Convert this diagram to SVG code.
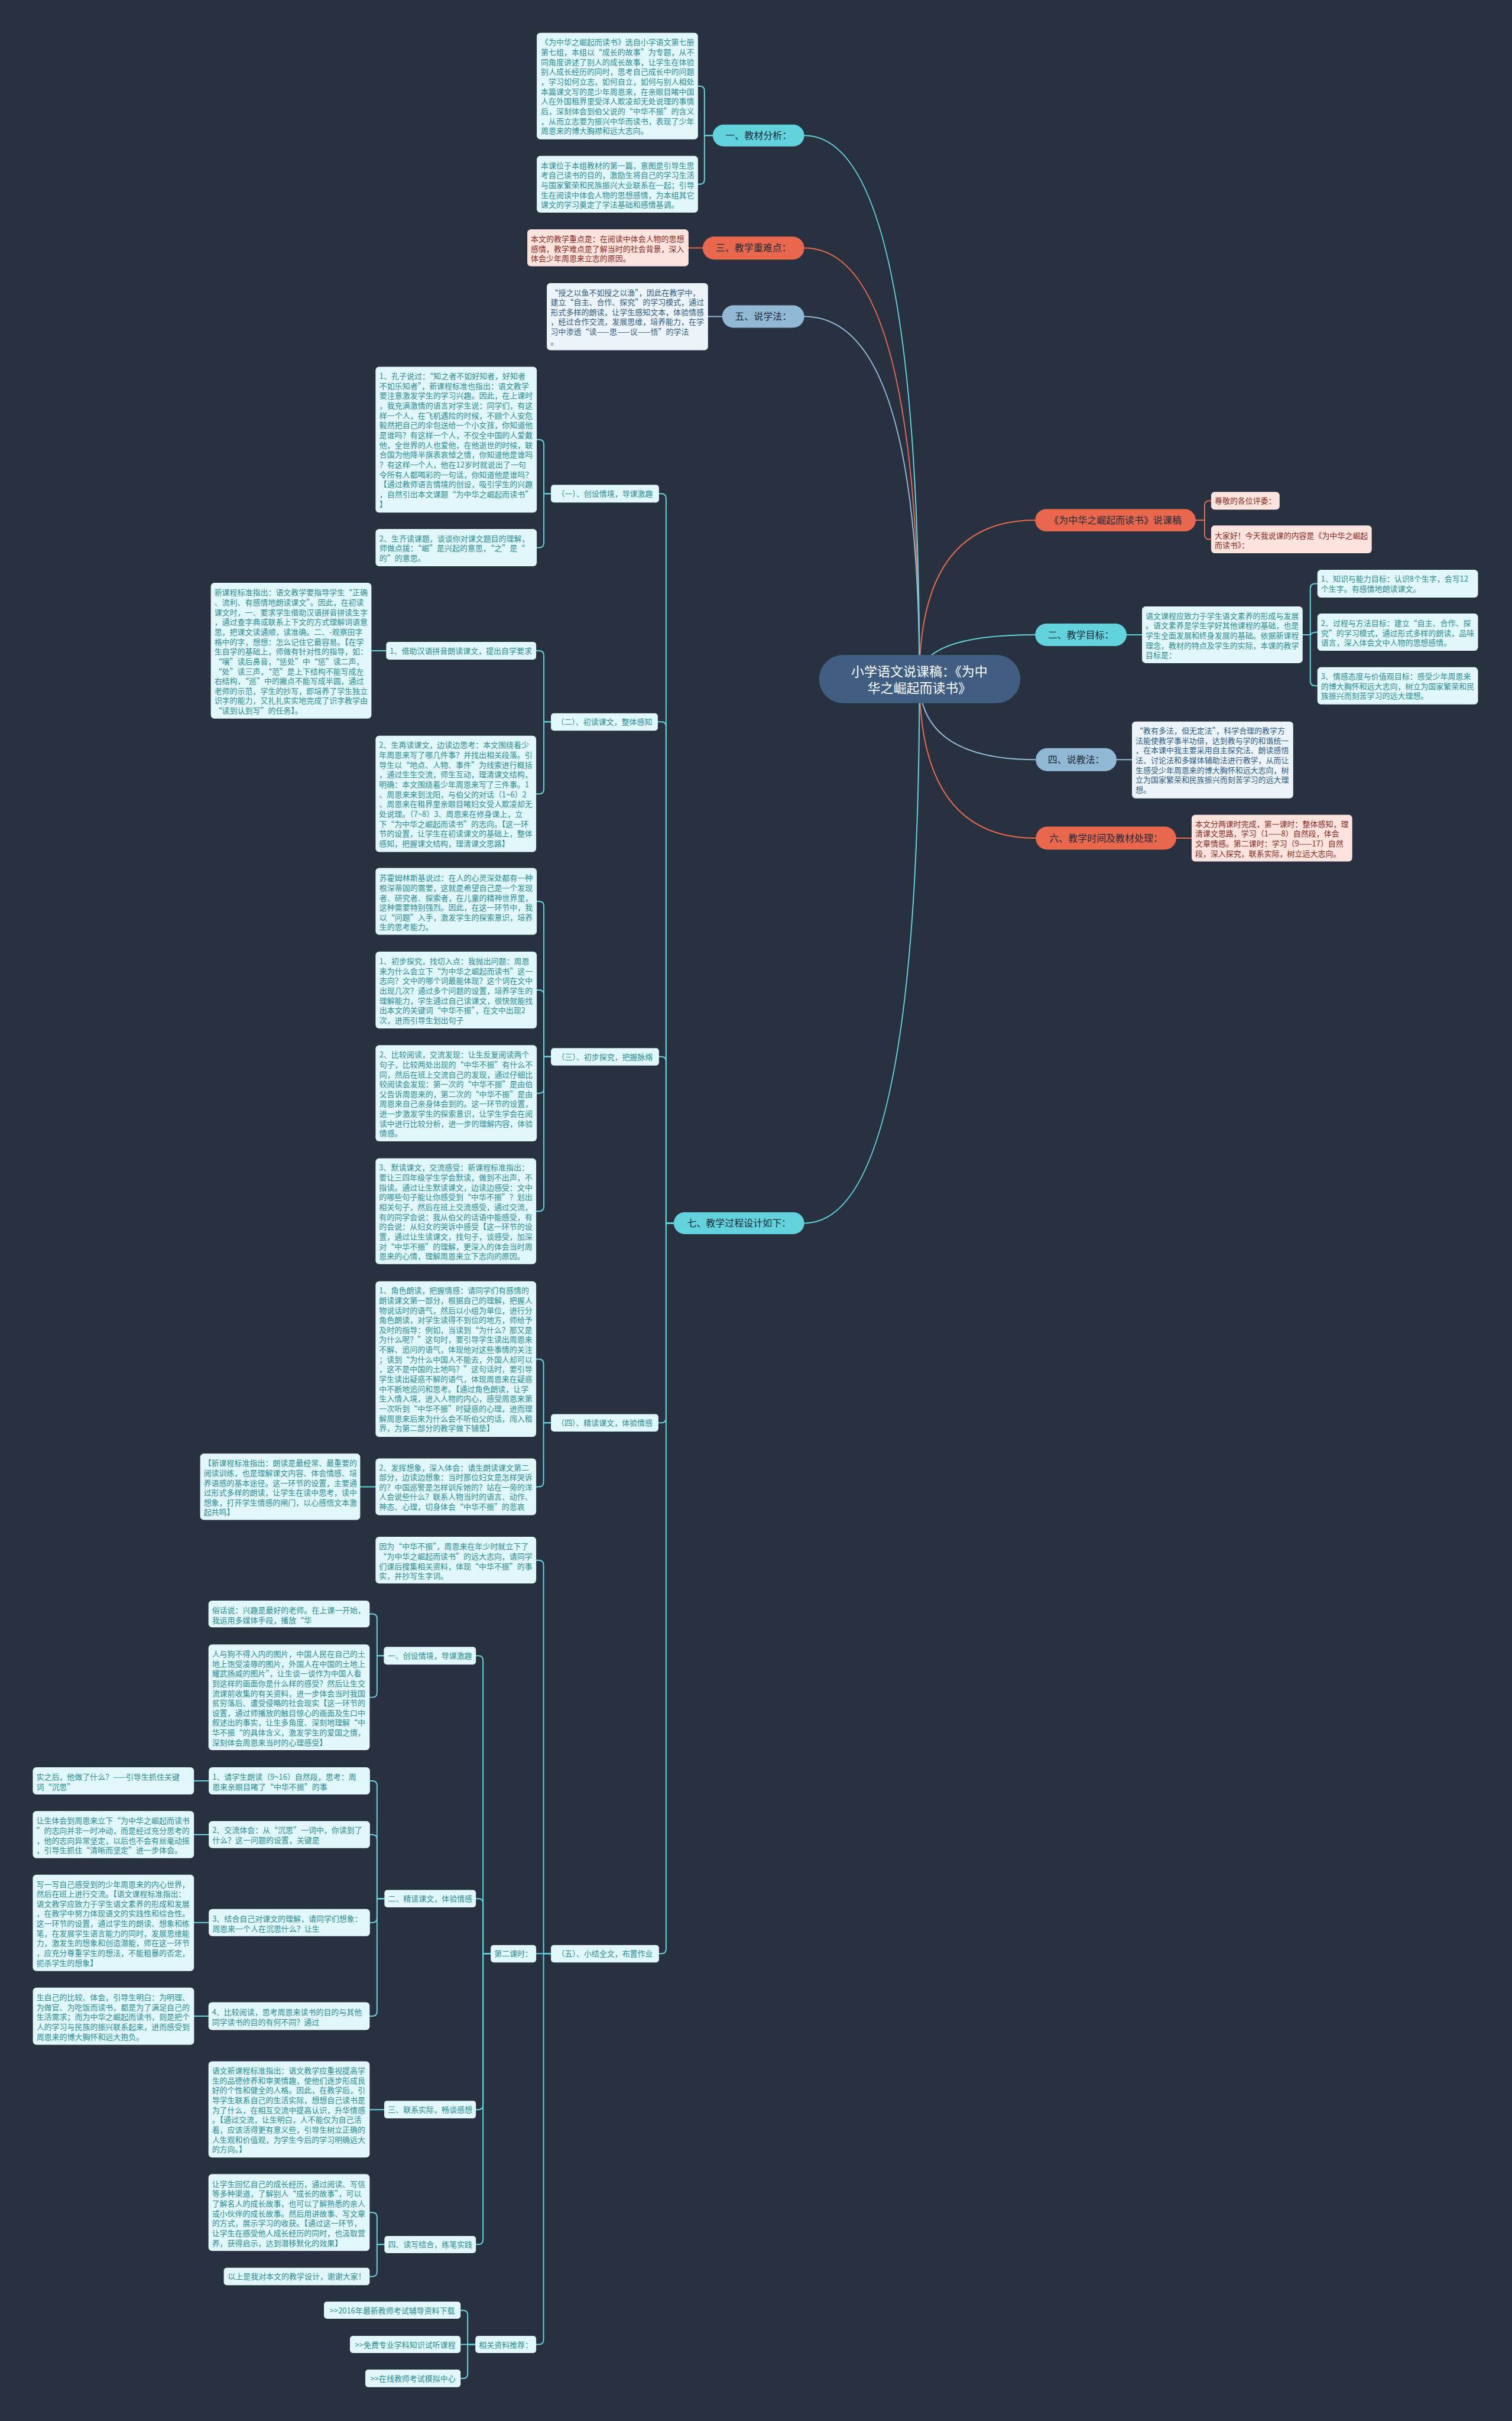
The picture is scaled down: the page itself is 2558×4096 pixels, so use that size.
<svg xmlns="http://www.w3.org/2000/svg" width="2558" height="4096" viewBox="0 0 2558 4096">
<style>
.t{font-family:"Noto Sans CJK SC","Noto Sans",sans-serif;font-size:13px;fill:#2b8e98}
.tp{fill:#8c2b1e}
.tb{fill:#2d5d87}
.lf{fill:#e2f7f9}
.pk{fill:#fde3de}
.bl{fill:#edf4f9}
.c{text-anchor:middle}
.h{font-family:"Noto Sans CJK SC","Noto Sans",sans-serif;font-size:16px;fill:#1d2b3a;text-anchor:middle}
.rt{font-family:"Noto Sans CJK SC","Noto Sans",sans-serif;font-size:22px;fill:#ffffff;text-anchor:middle}
.k{fill:none;stroke-width:2;stroke-linecap:round}
.kc{stroke:#62d2dc}
.ko{stroke:#e9674d}
.ks{stroke:#91b8d4}
</style>
<rect x="0" y="0" width="2558" height="4096" fill="#28313f"/>
<g transform="scale(0.999)">
<g id="connectors">
<g class="k ko">
<path d="M1557 1150 Q1557 881 1753 881"/>
<path d="M1557 1150 Q1557 1419.5 1754 1419.5"/>
<path d="M1557 1150 Q1557 420 1362 420"/>
<path d="M1190 420 H1166"/>
<path d="M1992 1419.5 H2018"/>
<path d="M2025 881 H2040 V856 Q2040 848 2048 848 H2051"/>
<path d="M2025 881 H2040 V905.5 Q2040 913.5 2048 913.5 H2051"/>
</g>
<g class="k ks">
<path d="M1557 1150 Q1557 1286.5 1754 1286.5"/>
<path d="M1557 1150 Q1557 536 1362 536"/>
<path d="M1223 536 H1199"/>
<path d="M1891 1286.5 H1917"/>
</g>
<g class="k kc">
<path d="M1557 1150 Q1557 1075 1753 1075"/>
<path d="M1557 1150 Q1557 229.5 1362 229.5"/>
<path d="M1557 1150 Q1557 2071.5 1362 2071.5"/>
<path d="M1207 229.5 H1193 V154 Q1193 146 1185 146 H1182"/>
<path d="M1207 229.5 H1193 V304 Q1193 312 1185 312 H1182"/>
<path d="M1908 1075 H1934"/>
<path d="M2206 1075 H2219 V996.5 Q2219 988.5 2227 988.5 H2231"/>
<path d="M2206 1075 H2219 Q2222 1070.5 2231 1070.5"/>
<path d="M2206 1075 H2219 V1153.5 Q2219 1161.5 2227 1161.5 H2231"/>
<path d="M1141 2071.5 H1128 V844 Q1128 836 1120 836 H1116"/>
<path d="M1141 2071.5 H1128 V1230.5 Q1128 1222.5 1120 1222.5 H1114"/>
<path d="M1141 2071.5 H1128 V1797.5 Q1128 1789.5 1120 1789.5 H1116"/>
<path d="M1141 2071.5 H1128 V2401.6 Q1128 2409.6 1120 2409.6 H1115"/>
<path d="M1141 2071.5 H1128 V3300.5 Q1128 3308.5 1120 3308.5 H1116"/>
<path d="M933 836 H921 V752.5 Q921 744.5 913 744.5 H909"/>
<path d="M933 836 H921 V919.5 Q921 927.5 913 927.5 H909"/>
<path d="M933 1222.5 H921 V1110 Q921 1102 913 1102 H908"/>
<path d="M933 1222.5 H921 V1336.5 Q921 1344.5 913 1344.5 H908"/>
<path d="M654 1102 H629"/>
<path d="M933 1789.5 H921 V1534.5 Q921 1526.5 913 1526.5 H909"/>
<path d="M933 1789.5 H921 V1684.7 Q921 1676.7 913 1676.7 H909"/>
<path d="M933 1789.5 H921 V1843.5 Q921 1851.5 913 1851.5 H909"/>
<path d="M933 1789.5 H921 V2043.3 Q921 2051.3 913 2051.3 H908"/>
<path d="M933 2409.6 H920.5 V2309.7 Q920.5 2301.7 912.5 2301.7 H908"/>
<path d="M933 2409.6 H920.5 V2510 Q920.5 2518 912.5 2518 H908"/>
<path d="M636 2518 H610"/>
<path d="M933 3308.5 H920.5 V2650.3 Q920.5 2642.3 912.5 2642.3 H908"/>
<path d="M933 3308.5 H908"/>
<path d="M933 3308.5 H920.5 V3962.5 Q920.5 3970.5 912.5 3970.5 H908"/>
<path d="M831 3308.5 H818 V2812 Q818 2804 810 2804 H806"/>
<path d="M831 3308.5 H818 V3223.5 Q818 3215.5 810 3215.5 H806"/>
<path d="M831 3308.5 H818 V3564.7 Q818 3572.7 810 3572.7 H806"/>
<path d="M831 3308.5 H818 V3793 Q818 3801 810 3801 H806"/>
<path d="M650 2804 H638.5 V2741.3 Q638.5 2733.3 630.5 2733.3 H626"/>
<path d="M650 2804 H638.5 V2866.5 Q638.5 2874.5 630.5 2874.5 H626"/>
<path d="M651 3215.5 H638.5 V3024 Q638.5 3016 630.5 3016 H626.5"/>
<path d="M651 3215.5 H638.5 V3115 Q638.5 3107 630.5 3107 H626.5"/>
<path d="M651 3215.5 H638.5 V3248 Q638.5 3256 630.5 3256 H626.5"/>
<path d="M651 3215.5 H638.5 V3406.5 Q638.5 3414.5 630.5 3414.5 H626"/>
<path d="M353.5 3016 H328.5"/>
<path d="M353.5 3107 H328.5"/>
<path d="M353.5 3256 H328.5"/>
<path d="M353 3414.5 H328.7"/>
<path d="M650.6 3572.7 H626"/>
<path d="M651 3801 H638.5 V3755 Q638.5 3747 630.5 3747 H626"/>
<path d="M651 3801 H638.5 V3847.3 Q638.5 3855.3 630.5 3855.3 H626"/>
<path d="M805 3970.5 H792 V3920.7 Q792 3912.7 784 3912.7 H780"/>
<path d="M805 3970.5 H780"/>
<path d="M805 3970.5 H792 V4020 Q792 4028 784 4028 H780"/>
</g>
</g>

<g id="root"><rect x="1387" y="1109" width="341" height="82" rx="41" fill="#405e82"/><text class="rt"><tspan x="1557" y="1145">小学语文说课稿：《为中</tspan><tspan x="1557" y="1173.4">华之崛起而读书》</tspan></text></g>

<g id="n1"><rect x="1207" y="211" width="155" height="37" rx="18.5" fill="#62d2dc"/><text class="h" x="1284.5" y="235.3">一、教材分析：</text></g>
<g id="n3"><rect x="1190" y="400.7" width="172" height="39" rx="19.5" fill="#e9674d"/><text class="h" x="1276" y="425.8">三、教学重难点：</text></g>
<g id="n5"><rect x="1223" y="517" width="139" height="38" rx="19" fill="#91b8d4"/><text class="h" x="1292.5" y="541.8">五、说学法：</text></g>
<g id="n7"><rect x="1141" y="2053" width="221" height="37" rx="18.5" fill="#62d2dc"/><text class="h" x="1251.5" y="2077.3">七、教学过程设计如下：</text></g>
<g id="nk"><rect x="1753" y="862" width="272" height="38" rx="19" fill="#e9674d"/><text class="h" x="1889" y="886.8">《为中华之崛起而读书》说课稿</text></g>
<g id="n2"><rect x="1753" y="1056" width="155" height="38" rx="19" fill="#62d2dc"/><text class="h" x="1830.5" y="1080.8">二、教学目标：</text></g>
<g id="n4"><rect x="1754" y="1267" width="137" height="39" rx="19.5" fill="#91b8d4"/><text class="h" x="1822.5" y="1292.3">四、说教法：</text></g>
<g id="n6"><rect x="1754" y="1400" width="238" height="39" rx="19.5" fill="#e9674d"/><text class="h" x="1873" y="1425.3">六、教学时间及教材处理：</text></g>

<g id="b1"><rect class="lf" x="909" y="55.5" width="273" height="180.5" rx="6"/><text class="t"><tspan x="916" y="76.4">《为中华之崛起而读书》选自小学语文第七册</tspan><tspan x="916" dy="16.67">第七组，本组以“成长的故事”为专题，从不</tspan><tspan x="916" dy="16.67">同角度讲述了别人的成长故事，让学生在体验</tspan><tspan x="916" dy="16.67">别人成长经历的同时，思考自己成长中的问题</tspan><tspan x="916" dy="16.67">，学习如何立志，如何自立，如何与别人相处</tspan><tspan x="916" dy="16.67">本篇课文写的是少年周恩来，在亲眼目睹中国</tspan><tspan x="916" dy="16.67">人在外国租界里受洋人欺凌却无处说理的事情</tspan><tspan x="916" dy="16.67">后，深刻体会到伯父说的“中华不振”的含义</tspan><tspan x="916" dy="16.67">，从而立志要为振兴中华而读书，表现了少年</tspan><tspan x="916" dy="16.67">周恩来的博大胸襟和远大志向。</tspan></text></g>
<g id="b2"><rect class="lf" x="909" y="264" width="273" height="96" rx="6"/><text class="t"><tspan x="916" y="285">本课位于本组教材的第一篇，意图是引导生思</tspan><tspan x="916" dy="16.67">考自己读书的目的，激励生将自己的学习生活</tspan><tspan x="916" dy="16.67">与国家繁荣和民族振兴大业联系在一起；引导</tspan><tspan x="916" dy="16.67">生在阅读中体会人物的思想感情，为本组其它</tspan><tspan x="916" dy="16.67">课文的学习奠定了学法基础和感情基调。</tspan></text></g>
<g id="b3"><rect class="pk" x="893" y="388.5" width="273" height="62.5" rx="6"/><text class="t tp"><tspan x="899" y="409.4">本文的教学重点是：在阅读中体会人物的思想</tspan><tspan x="899" dy="16.67">感情，教学难点是了解当时的社会背景，深入</tspan><tspan x="899" dy="16.67">体会少年周恩来立志的原因。</tspan></text></g>
<g id="b5"><rect class="bl" x="926" y="479.5" width="273" height="113.5" rx="6"/><text class="t tb"><tspan x="932.5" y="500">“授之以鱼不如授之以渔”，因此在教学中，</tspan><tspan x="932.5" dy="16.67">建立“自主、合作、探究”的学习模式，通过</tspan><tspan x="932.5" dy="16.67">形式多样的朗读，让学生感知文本，体验情感</tspan><tspan x="932.5" dy="16.67">，经过合作交流，发展思维，培养能力，在学</tspan><tspan x="932.5" dy="16.67">习中渗透“读——思——议——悟”的学法</tspan><tspan x="932.5" dy="16.67">。</tspan></text></g>

<g id="bk1"><rect class="pk" x="2051" y="833" width="116" height="30" rx="6"/><text class="t tp" x="2057" y="853">尊敬的各位评委：</text></g>
<g id="bk2"><rect class="pk" x="2051" y="890" width="272" height="47" rx="6"/><text class="t tp"><tspan x="2057" y="911.7">大家好！今天我说课的内容是《为中华之崛起</tspan><tspan x="2057" dy="16.67">而读书》：</tspan></text></g>
<g id="b2a"><rect class="lf" x="1934" y="1027" width="272" height="96" rx="6"/><text class="t"><tspan x="1940" y="1047.7">语文课程应致力于学生语文素养的形成与发展</tspan><tspan x="1940" dy="16.67">。语文素养是学生学好其他课程的基础，也是</tspan><tspan x="1940" dy="16.67">学生全面发展和终身发展的基础。依据新课程</tspan><tspan x="1940" dy="16.67">理念，教材的特点及学生的实际，本课的教学</tspan><tspan x="1940" dy="16.67">目标是：</tspan></text></g>
<g id="g1"><rect class="lf" x="2231" y="965" width="272" height="47" rx="6"/><text class="t"><tspan x="2237" y="985">1、知识与能力目标：认识8个生字，会写12</tspan><tspan x="2237" dy="16.67">个生字。有感情地朗读课文。</tspan></text></g>
<g id="g2"><rect class="lf" x="2231" y="1039" width="272" height="63" rx="6"/><text class="t"><tspan x="2237" y="1060">2、过程与方法目标：建立“自主、合作、探</tspan><tspan x="2237" dy="16.67">究”的学习模式，通过形式多样的朗读，品味</tspan><tspan x="2237" dy="16.67">语言，深入体会文中人物的思想感情。</tspan></text></g>
<g id="g3"><rect class="lf" x="2231" y="1130" width="272" height="63" rx="6"/><text class="t"><tspan x="2237" y="1150">3、情感态度与价值观目标：感受少年周恩来</tspan><tspan x="2237" dy="16.67">的博大胸怀和远大志向，树立为国家繁荣和民</tspan><tspan x="2237" dy="16.67">族振兴而刻苦学习的远大理想。</tspan></text></g>
<g id="b4a"><rect class="bl" x="1917" y="1222" width="273" height="130" rx="6"/><text class="t tb"><tspan x="1923" y="1242.3">“教有多法，但无定法”，科学合理的教学方</tspan><tspan x="1923" dy="16.67">法能使教学事半功倍，达到教与学的和谐统一</tspan><tspan x="1923" dy="16.67">，在本课中我主要采用自主探究法、朗读感悟</tspan><tspan x="1923" dy="16.67">法、讨论法和多媒体辅助法进行教学，从而让</tspan><tspan x="1923" dy="16.67">生感受少年周恩来的博大胸怀和远大志向，树</tspan><tspan x="1923" dy="16.67">立为国家繁荣和民族振兴而刻苦学习的远大理</tspan><tspan x="1923" dy="16.67">想。</tspan></text></g>
<g id="b6a"><rect class="pk" x="2018" y="1380" width="272" height="79" rx="6"/><text class="t tp"><tspan x="2024" y="1400">本文分两课时完成，第一课时：整体感知，理</tspan><tspan x="2024" dy="16.67">清课文思路，学习（1——8）自然段，体会</tspan><tspan x="2024" dy="16.67">文章情感。第二课时：学习（9——17）自然</tspan><tspan x="2024" dy="16.67">段，深入探究，联系实际，树立远大志向。</tspan></text></g>

<g id="s1"><rect class="lf" x="933" y="821" width="183" height="30" rx="5"/><text class="t c" x="1024.5" y="841">（一）、创设情境，导课激趣</text></g>
<g id="l1a"><rect class="lf" x="636" y="621" width="273" height="247" rx="6"/><text class="t"><tspan x="642.5" y="641.7">1、孔子说过：“知之者不如好知者，好知者</tspan><tspan x="642.5" dy="16.67">不如乐知者”，新课程标准也指出：语文教学</tspan><tspan x="642.5" dy="16.67">要注意激发学生的学习兴趣。因此，在上课时</tspan><tspan x="642.5" dy="16.67">，我充满激情的语言对学生说：同学们，有这</tspan><tspan x="642.5" dy="16.67">样一个人，在飞机遇险的时候，不顾个人安危</tspan><tspan x="642.5" dy="16.67">毅然把自己的伞包送给一个小女孩，你知道他</tspan><tspan x="642.5" dy="16.67">是谁吗？有这样一个人，不仅全中国的人爱戴</tspan><tspan x="642.5" dy="16.67">他，全世界的人也爱他，在他逝世的时候，联</tspan><tspan x="642.5" dy="16.67">合国为他降半旗表哀悼之情，你知道他是谁吗</tspan><tspan x="642.5" dy="16.67">？有这样一个人，他在12岁时就说出了一句</tspan><tspan x="642.5" dy="16.67">令所有人都喝彩的一句话，你知道他是谁吗？</tspan><tspan x="642.5" dy="16.67">【通过教师语言情境的创设，吸引学生的兴趣</tspan><tspan x="642.5" dy="16.67">，自然引出本文课题“为中华之崛起而读书”</tspan><tspan x="642.5" dy="16.67">】</tspan></text></g>
<g id="l1b"><rect class="lf" x="636" y="896" width="273" height="63" rx="6"/><text class="t"><tspan x="642.5" y="916.7">2、生齐读课题，谈谈你对课文题目的理解，</tspan><tspan x="642.5" dy="16.67">师做点拨：“崛”是兴起的意思，“之”是“</tspan><tspan x="642.5" dy="16.67">的”的意思。</tspan></text></g>

<g id="s2"><rect class="lf" x="933" y="1208" width="181" height="29.5" rx="5"/><text class="t c" x="1023.5" y="1227.5">（二）、初读课文，整体感知</text></g>
<g id="l2a"><rect class="lf" x="357" y="987" width="272" height="230" rx="6"/><text class="t"><tspan x="363" y="1008.3">新课程标准指出：语文教学要指导学生“正确</tspan><tspan x="363" dy="16.67">、流利、有感情地朗读课文”。因此，在初读</tspan><tspan x="363" dy="16.67">课文时，一、要求学生借助汉语拼音拼读生字</tspan><tspan x="363" dy="16.67">，通过查字典或联系上下文的方式理解词语意</tspan><tspan x="363" dy="16.67">思，把课文读通顺，读准确。二、-观察田字</tspan><tspan x="363" dy="16.67">格中的字，想想：怎么记住它最容易。【在学</tspan><tspan x="363" dy="16.67">生自学的基础上，师做有针对性的指导，如：</tspan><tspan x="363" dy="16.67">“嚷”读后鼻音，“惩处”中“惩”读二声，</tspan><tspan x="363" dy="16.67">“处”读三声，“范”是上下结构不能写成左</tspan><tspan x="363" dy="16.67">右结构，“巡”中的撇点不能写成半圆，通过</tspan><tspan x="363" dy="16.67">老师的示范，学生的抄写，即培养了学生独立</tspan><tspan x="363" dy="16.67">识字的能力，又扎扎实实地完成了识字教学由</tspan><tspan x="363" dy="16.67">“读到认到写”的任务】。</tspan></text></g>
<g id="l2b"><rect class="lf" x="654" y="1087" width="254" height="30" rx="5"/><text class="t" x="660" y="1107">1、借助汉语拼音朗读课文，提出自学要求</text></g>
<g id="l2c"><rect class="lf" x="636" y="1246" width="272" height="197" rx="6"/><text class="t"><tspan x="642" y="1266.7">2、生再读课文，边读边思考：本文围绕着少</tspan><tspan x="642" dy="16.67">年周恩来写了哪几件事？并找出相关段落。引</tspan><tspan x="642" dy="16.67">导生以“地点、人物、事件”为线索进行概括</tspan><tspan x="642" dy="16.67">，通过生生交流，师生互动，理清课文结构，</tspan><tspan x="642" dy="16.67">明确：本文围绕着少年周恩来写了三件事。1</tspan><tspan x="642" dy="16.67">、周恩来来到沈阳，与伯父的对话（1~6）2</tspan><tspan x="642" dy="16.67">、周恩来在租界里亲眼目睹妇女受人欺凌却无</tspan><tspan x="642" dy="16.67">处说理。（7~8）3、周恩来在修身课上，立</tspan><tspan x="642" dy="16.67">下“为中华之崛起而读书”的志向。【这一环</tspan><tspan x="642" dy="16.67">节的设置，让学生在初读课文的基础上，整体</tspan><tspan x="642" dy="16.67">感知，把握课文结构，理清课文思路】</tspan></text></g>

<g id="s3"><rect class="lf" x="933" y="1775" width="183" height="29.5" rx="5"/><text class="t c" x="1024.5" y="1794.5">（三）、初步探究，把握脉络</text></g>
<g id="l3a"><rect class="lf" x="636" y="1470" width="273" height="113" rx="6"/><text class="t"><tspan x="642.5" y="1491.7">苏霍姆林斯基说过：在人的心灵深处都有一种</tspan><tspan x="642.5" dy="16.67">根深蒂固的需要，这就是希望自己是一个发现</tspan><tspan x="642.5" dy="16.67">者、研究者、探索者，在儿童的精神世界里，</tspan><tspan x="642.5" dy="16.67">这种需要特别强烈。因此，在这一环节中，我</tspan><tspan x="642.5" dy="16.67">以“问题”入手，激发学生的探索意识，培养</tspan><tspan x="642.5" dy="16.67">生的思考能力。</tspan></text></g>
<g id="l3b"><rect class="lf" x="636" y="1611.7" width="273" height="130" rx="6"/><text class="t"><tspan x="642.5" y="1632.7">1、初步探究，找切入点：我抛出问题：周恩</tspan><tspan x="642.5" dy="16.67">来为什么会立下“为中华之崛起而读书”这一</tspan><tspan x="642.5" dy="16.67">志向？文中的哪个词最能体现？这个词在文中</tspan><tspan x="642.5" dy="16.67">出现几次？通过多个问题的设置，培养学生的</tspan><tspan x="642.5" dy="16.67">理解能力，学生通过自己读课文，很快就能找</tspan><tspan x="642.5" dy="16.67">出本文的关键词“中华不振”，在文中出现2</tspan><tspan x="642.5" dy="16.67">次，进而引导生划出句子</tspan></text></g>
<g id="l3c"><rect class="lf" x="636" y="1770" width="273" height="163" rx="6"/><text class="t"><tspan x="642.5" y="1791">2、比较阅读，交流发现：让生反复阅读两个</tspan><tspan x="642.5" dy="16.67">句子，比较两处出现的“中华不振”有什么不</tspan><tspan x="642.5" dy="16.67">同，然后在班上交流自己的发现，通过仔细比</tspan><tspan x="642.5" dy="16.67">较阅读会发现：第一次的“中华不振”是由伯</tspan><tspan x="642.5" dy="16.67">父告诉周恩来的，第二次的“中华不振”是由</tspan><tspan x="642.5" dy="16.67">周恩来自己亲身体会到的。这一环节的设置，</tspan><tspan x="642.5" dy="16.67">进一步激发学生的探索意识，让学生学会在阅</tspan><tspan x="642.5" dy="16.67">读中进行比较分析，进一步的理解内容，体验</tspan><tspan x="642.5" dy="16.67">情感。</tspan></text></g>
<g id="l3d"><rect class="lf" x="636" y="1961.6" width="272" height="179.4" rx="6"/><text class="t"><tspan x="642" y="1982.3">3、默读课文，交流感受：新课程标准指出：</tspan><tspan x="642" dy="16.67">要让三四年级学生学会默读，做到不出声，不</tspan><tspan x="642" dy="16.67">指读。通过让生默读课文，边读边感受：文中</tspan><tspan x="642" dy="16.67">的哪些句子能让你感受到“中华不振”？划出</tspan><tspan x="642" dy="16.67">相关句子，然后在班上交流感受，通过交流，</tspan><tspan x="642" dy="16.67">有的同学会说：我从伯父的话语中能感受，有</tspan><tspan x="642" dy="16.67">的会说：从妇女的哭诉中感受【这一环节的设</tspan><tspan x="642" dy="16.67">置，通过让生读课文，找句子，谈感受，加深</tspan><tspan x="642" dy="16.67">对“中华不振”的理解，更深入的体会当时周</tspan><tspan x="642" dy="16.67">恩来的心情，理解周恩来立下志向的原因。</tspan></text></g>

<g id="s4"><rect class="lf" x="933" y="2395" width="182" height="29.5" rx="5"/><text class="t c" x="1024" y="2414.6">（四）、精读课文，体验情感</text></g>
<g id="l4a"><rect class="lf" x="636" y="2170" width="272" height="263.4" rx="6"/><text class="t"><tspan x="642" y="2190.4">1、角色朗读，把握情感：请同学们有感情的</tspan><tspan x="642" dy="16.67">朗读课文第一部分，根据自己的理解，把握人</tspan><tspan x="642" dy="16.67">物说话时的语气，然后以小组为单位，进行分</tspan><tspan x="642" dy="16.67">角色朗读，对学生读得不到位的地方，师给予</tspan><tspan x="642" dy="16.67">及时的指导：例如，当读到“为什么？那又是</tspan><tspan x="642" dy="16.67">为什么呢？”这句时，要引导学生读出周恩来</tspan><tspan x="642" dy="16.67">不解、追问的语气，体现他对这些事情的关注</tspan><tspan x="642" dy="16.67">；读到“为什么中国人不能去，外国人却可以</tspan><tspan x="642" dy="16.67">，这不是中国的土地吗？”这句话时，要引导</tspan><tspan x="642" dy="16.67">学生读出疑惑不解的语气，体现周恩来在疑惑</tspan><tspan x="642" dy="16.67">中不断地追问和思考。【通过角色朗读，让学</tspan><tspan x="642" dy="16.67">生入情入境，进入人物的内心，感受周恩来第</tspan><tspan x="642" dy="16.67">一次听到“中华不振”时疑惑的心理，进而理</tspan><tspan x="642" dy="16.67">解周恩来后来为什么会不听伯父的话，闯入租</tspan><tspan x="642" dy="16.67">界，为第二部分的教学做下铺垫】</tspan></text></g>
<g id="l4b"><rect class="lf" x="636" y="2470" width="272" height="96" rx="6"/><text class="t"><tspan x="642" y="2490">2、发挥想象，深入体会：请生朗读课文第二</tspan><tspan x="642" dy="16.67">部分，边读边想象：当时那位妇女是怎样哭诉</tspan><tspan x="642" dy="16.67">的？中国巡警是怎样训斥她的？站在一旁的洋</tspan><tspan x="642" dy="16.67">人会说些什么？联系人物当时的语言、动作、</tspan><tspan x="642" dy="16.67">神态、心理，切身体会“中华不振”的悲哀</tspan></text></g>
<g id="l4c"><rect class="lf" x="339" y="2461.6" width="271" height="112.4" rx="6"/><text class="t"><tspan x="345" y="2482.7">【新课程标准指出：朗读是最经常、最重要的</tspan><tspan x="345" dy="16.67">阅读训练，也是理解课文内容、体会情感、培</tspan><tspan x="345" dy="16.67">养语感的基本途径。这一环节的设置，主要通</tspan><tspan x="345" dy="16.67">过形式多样的朗读，让学生在读中思考，读中</tspan><tspan x="345" dy="16.67">想象，打开学生情感的闸门，以心感悟文本激</tspan><tspan x="345" dy="16.67">起共鸣】</tspan></text></g>

<g id="s5"><rect class="lf" x="933" y="3294" width="183" height="29.5" rx="5"/><text class="t c" x="1024.5" y="3313.5">（五）、小结全文，布置作业</text></g>
<g id="l5a"><rect class="lf" x="636" y="2602.7" width="272" height="79" rx="6"/><text class="t"><tspan x="642" y="2624">因为“中华不振”，周恩来在年少时就立下了</tspan><tspan x="642" dy="16.67">“为中华之崛起而读书”的远大志向，请同学</tspan><tspan x="642" dy="16.67">们课后搜集相关资料，体现“中华不振”的事</tspan><tspan x="642" dy="16.67">实，并抄写生字词。</tspan></text></g>
<g id="k2"><rect class="lf" x="831" y="3294" width="77" height="29.5" rx="5"/><text class="t c" x="869.5" y="3313.5">第二课时：</text></g>

<g id="p1"><rect class="lf" x="650" y="2789" width="156" height="30" rx="5"/><text class="t c" x="728" y="2809">一、创设情境，导课激趣</text></g>
<g id="p1a"><rect class="lf" x="353" y="2710.7" width="273" height="45.3" rx="6"/><text class="t"><tspan x="359" y="2731.7">俗话说：兴趣是最好的老师。在上课一开始，</tspan><tspan x="359" dy="16.67">我运用多媒体手段，播放“华</tspan></text></g>
<g id="p1b"><rect class="lf" x="353" y="2785" width="273" height="179" rx="6"/><text class="t"><tspan x="359" y="2805.7">人与狗不得入内的图片，中国人民在自己的土</tspan><tspan x="359" dy="16.67">地上饱受凌辱的图片，外国人在中国的土地上</tspan><tspan x="359" dy="16.67">耀武扬威的图片”，让生谈一谈作为中国人看</tspan><tspan x="359" dy="16.67">到这样的画面你是什么样的感受？然后让生交</tspan><tspan x="359" dy="16.67">流课前收集的有关资料，进一步体会当时我国</tspan><tspan x="359" dy="16.67">贫穷落后、遭受侵略的社会现实【这一环节的</tspan><tspan x="359" dy="16.67">设置，通过师播放的触目惊心的画面及生口中</tspan><tspan x="359" dy="16.67">叙述出的事实，让生多角度、深刻地理解“中</tspan><tspan x="359" dy="16.67">华不振“的具体含义，激发学生的爱国之情，</tspan><tspan x="359" dy="16.67">深刻体会周恩来当时的心理感受】</tspan></text></g>

<g id="p2"><rect class="lf" x="651" y="3200.7" width="155" height="29.5" rx="5"/><text class="t c" x="728.5" y="3220.5">二、精读课文，体验情感</text></g>
<g id="p2a"><rect class="lf" x="353.5" y="2993" width="273" height="46" rx="6"/><text class="t"><tspan x="359.5" y="3014">1、请学生朗读（9~16）自然段，思考：周</tspan><tspan x="359.5" dy="16.67">恩来亲眼目睹了“中华不振”的事</tspan></text></g>
<g id="p2a1"><rect class="lf" x="55.5" y="2993" width="273" height="46" rx="6"/><text class="t"><tspan x="61.5" y="3014">实之后，他做了什么？——引导生抓住关键</tspan><tspan x="61.5" dy="16.67">词“沉思”</tspan></text></g>
<g id="p2b"><rect class="lf" x="353.5" y="3084" width="273" height="46" rx="6"/><text class="t"><tspan x="359.5" y="3104.3">2、交流体会：从“沉思”一词中，你读到了</tspan><tspan x="359.5" dy="16.67">什么？这一问题的设置，关键是</tspan></text></g>
<g id="p2b1"><rect class="lf" x="55.5" y="3067" width="273" height="80" rx="6"/><text class="t"><tspan x="61.5" y="3088.3">让生体会到周恩来立下“为中华之崛起而读书</tspan><tspan x="61.5" dy="16.67">”的志向并非一时冲动，而是经过充分思考的</tspan><tspan x="61.5" dy="16.67">，他的志向异常坚定，以后也不会有丝毫动摇</tspan><tspan x="61.5" dy="16.67">，引导生抓住“清晰而坚定”进一步体会。</tspan></text></g>
<g id="p2c"><rect class="lf" x="353.5" y="3233" width="273" height="46" rx="6"/><text class="t"><tspan x="359.5" y="3254.3">3、结合自己对课文的理解，请同学们想象：</tspan><tspan x="359.5" dy="16.67">周恩来一个人在沉思什么？让生</tspan></text></g>
<g id="p2c1"><rect class="lf" x="55.5" y="3175" width="273" height="163" rx="6"/><text class="t"><tspan x="61.5" y="3195.7">写一写自己感受到的少年周恩来的内心世界，</tspan><tspan x="61.5" dy="16.67">然后在班上进行交流。【语文课程标准指出：</tspan><tspan x="61.5" dy="16.67">语文教学应致力于学生语文素养的形成和发展</tspan><tspan x="61.5" dy="16.67">，在教学中努力体现语文的实践性和综合性。</tspan><tspan x="61.5" dy="16.67">这一环节的设置，通过学生的朗读、想象和练</tspan><tspan x="61.5" dy="16.67">笔，在发展学生语言能力的同时，发展思维能</tspan><tspan x="61.5" dy="16.67">力，激发生的想象和创造潜能，师在这一环节</tspan><tspan x="61.5" dy="16.67">，应充分尊重学生的想法，不能粗暴的否定，</tspan><tspan x="61.5" dy="16.67">扼杀学生的想象】</tspan></text></g>
<g id="p2d"><rect class="lf" x="353" y="3391" width="273" height="47" rx="6"/><text class="t"><tspan x="359" y="3412.3">4、比较阅读，思考周恩来读书的目的与其他</tspan><tspan x="359" dy="16.67">同学读书的目的有何不同？通过</tspan></text></g>
<g id="p2d1"><rect class="lf" x="55.7" y="3366" width="273" height="97" rx="6"/><text class="t"><tspan x="61.7" y="3387.3">生自己的比较、体会，引导生明白：为明理、</tspan><tspan x="61.7" dy="16.67">为做官、为吃饭而读书，都是为了满足自己的</tspan><tspan x="61.7" dy="16.67">生活需求；而为中华之崛起而读书，则是把个</tspan><tspan x="61.7" dy="16.67">人的学习与民族的振兴联系起来，进而感受到</tspan><tspan x="61.7" dy="16.67">周恩来的博大胸怀和远大抱负。</tspan></text></g>

<g id="p3"><rect class="lf" x="650.6" y="3557.7" width="155.4" height="30" rx="5"/><text class="t c" x="728.3" y="3577.7">三、联系实际，畅谈感想</text></g>
<g id="p3a"><rect class="lf" x="353" y="3491" width="273" height="163" rx="6"/><text class="t"><tspan x="359" y="3511.7">语文新课程标准指出：语文教学应重视提高学</tspan><tspan x="359" dy="16.67">生的品德修养和审美情趣，使他们逐步形成良</tspan><tspan x="359" dy="16.67">好的个性和健全的人格。因此，在教学后，引</tspan><tspan x="359" dy="16.67">导学生联系自己的生活实际，想想自己读书是</tspan><tspan x="359" dy="16.67">为了什么，在相互交流中提高认识，升华情感</tspan><tspan x="359" dy="16.67">。【通过交流，让生明白，人不能仅为自己活</tspan><tspan x="359" dy="16.67">着，应该活得更有意义些，引导生树立正确的</tspan><tspan x="359" dy="16.67">人生观和价值观，为学生今后的学习明确远大</tspan><tspan x="359" dy="16.67">的方向。】</tspan></text></g>

<g id="p4"><rect class="lf" x="651" y="3786.7" width="155" height="29" rx="5"/><text class="t c" x="728.5" y="3806">四、读写结合，练笔实践</text></g>
<g id="p4a"><rect class="lf" x="353" y="3682" width="273" height="130" rx="6"/><text class="t"><tspan x="359" y="3703.3">让学生回忆自己的成长经历，通过阅读、写信</tspan><tspan x="359" dy="16.67">等多种渠道，了解别人“成长的故事”，可以</tspan><tspan x="359" dy="16.67">了解名人的成长故事，也可以了解熟悉的亲人</tspan><tspan x="359" dy="16.67">或小伙伴的成长故事。然后用讲故事、写文章</tspan><tspan x="359" dy="16.67">的方式，展示学习的收获。【通过这一环节，</tspan><tspan x="359" dy="16.67">让学生在感受他人成长经历的同时，也汲取营</tspan><tspan x="359" dy="16.67">养，获得启示，达到潜移默化的效果】</tspan></text></g>
<g id="p4b"><rect class="lf" x="379" y="3840.7" width="247" height="29.3" rx="5"/><text class="t c" x="502.5" y="3860">以上是我对本文的教学设计，谢谢大家！</text></g>

<g id="r0"><rect class="lf" x="805" y="3956" width="103" height="29" rx="5"/><text class="t c" x="856.5" y="3975.5">相关资料推荐：</text></g>
<g id="r1"><rect class="lf" x="548.6" y="3898" width="231.4" height="29" rx="5"/><text class="t c" x="664.3" y="3917.7">&gt;&gt;2016年最新教师考试辅导资料下载</text></g>
<g id="r2"><rect class="lf" x="592.6" y="3956" width="187.4" height="29" rx="5"/><text class="t c" x="686.3" y="3975.5">&gt;&gt;免费专业学科知识试听课程</text></g>
<g id="r3"><rect class="lf" x="618.6" y="4013" width="161.4" height="29.7" rx="5"/><text class="t c" x="699.3" y="4033">&gt;&gt;在线教师考试模拟中心</text></g>
</g>
</svg>
